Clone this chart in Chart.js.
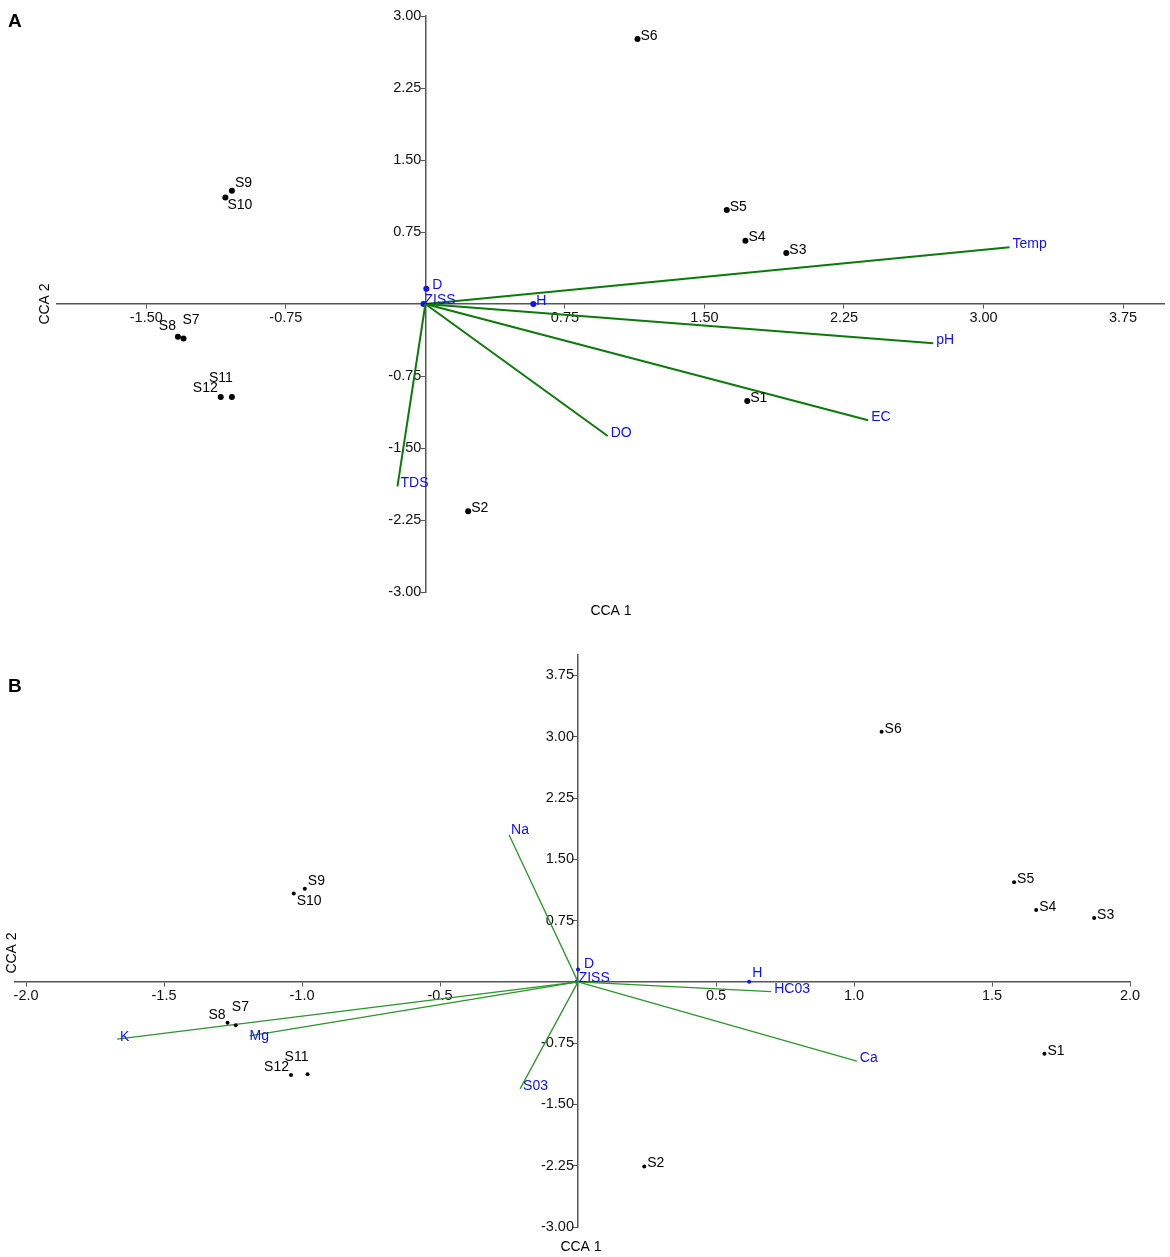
<!DOCTYPE html>
<html>
<head>
<meta charset="utf-8">
<script src="https://cdn.jsdelivr.net/npm/chart.js@4.4.0/dist/chart.umd.min.js"></script>
<style>
html, body { margin: 0; padding: 0; background: #fff; }
canvas { display: block; }
</style>
</head>
<body>
<canvas id="chartA" width="1170" height="625"></canvas>
<canvas id="chartB" width="1170" height="632"></canvas>
<script>
// ---- Panel A: physico-chemical CCA ----
const sitesA = ['S1', 'S2', 'S3', 'S4', 'S5', 'S6', 'S7', 'S8', 'S9', 'S10', 'S11', 'S12'];
const siteXA = [1.73, 0.23, 1.94, 1.72, 1.62, 1.14, -1.30, -1.33, -1.04, -1.075, -1.04, -1.10];
const siteYA = [-1.01, -2.16, 0.53, 0.66, 0.98, 2.76, -0.36, -0.34, 1.18, 1.11, -0.97, -0.97];
const vecNamesA = ['Temp', 'pH', 'EC', 'DO', 'TDS'];
const vecXA = [3.14, 2.73, 2.38, 0.98, -0.15];
const vecYA = [0.59, -0.41, -1.21, -1.375, -1.90];
const ptVarsA = ['D', 'ZISS', 'H'];
const ptVarXA = [0.005, -0.01, 0.58];
const ptVarYA = [0.16, 0.0, 0.0];
const ticksXA = [-1.5, -0.75, 0.75, 1.5, 2.25, 3.0, 3.75];
const ticksYA = [-3.0, -2.25, -1.5, -0.75, 0.75, 1.5, 2.25, 3.0];

// ---- Panel B: ionic CCA ----
const sitesB = ['S1', 'S2', 'S3', 'S4', 'S5', 'S6', 'S7', 'S8', 'S9', 'S10', 'S11', 'S12'];
const siteXB = [1.69, 0.24, 1.87, 1.66, 1.58, 1.10, -1.24, -1.27, -0.99, -1.03, -0.98, -1.04];
const siteYB = [-0.88, -2.26, 0.78, 0.88, 1.22, 3.06, -0.53, -0.50, 1.14, 1.08, -1.13, -1.14];
const vecNamesB = ['Na', 'K', 'Mg', 'S03', 'Ca', 'HC03'];
const vecXB = [-0.25, -1.67, -1.19, -0.21, 1.01, 0.70];
const vecYB = [1.80, -0.70, -0.66, -1.31, -0.97, -0.12];
const ptVarsB = ['D', 'ZISS', 'H'];
const ptVarXB = [0.0, -0.005, 0.62];
const ptVarYB = [0.15, 0.0, 0.0];
const ticksXB = [-2.0, -1.5, -1.0, -0.5, 0.5, 1.0, 1.5, 2.0];
const ticksYB = [-3.0, -2.25, -1.5, -0.75, 0.75, 1.5, 2.25, 3.0, 3.75];

const FONT = '"Liberation Sans", Arial, sans-serif';
const BLUE = '#1010f0';

function toPts(xs, ys) {
    return xs.map((x, i) => ({ x: x, y: ys[i] }));
}

// label drawing for points / vector ends
const pointLabels = {
    id: 'pointLabels',
    afterDatasetsDraw(chart) {
        const ctx = chart.ctx;
        const xs = chart.scales.x, ys = chart.scales.y;
        ctx.save();
        chart.data.datasets.forEach(ds => {
            if (!ds.names) return;
            ctx.fillStyle = ds.textColor;
            ctx.font = ds.textSize + 'px ' + FONT;
            ctx.textBaseline = 'middle';
            ds.names.forEach((name, i) => {
                const p = ds.labelAt === 'end' ? ds.data[ds.data.length - 1] : ds.data[i];
                const off = (ds.offsets && ds.offsets[name]) || {};
                const dx = off.dx !== undefined ? off.dx : 3;
                const dy = off.dy !== undefined ? off.dy : -3;
                ctx.textAlign = off.align || 'left';
                ctx.fillText(name, xs.getPixelForValue(p.x) + dx, ys.getPixelForValue(p.y) + dy);
            });
        });
        ctx.restore();
    }
};

const panelText = {
    id: 'panelText',
    afterDraw(chart, args, opts) {
        const ctx = chart.ctx;
        ctx.save();
        ctx.fillStyle = '#000';
        ctx.textBaseline = 'middle';
        ctx.textAlign = 'left';
        ctx.font = 'bold 19px ' + FONT;
        ctx.fillText(opts.letter, opts.letterX, opts.letterY);
        ctx.font = '14px ' + FONT;
        ctx.textAlign = 'center';
        ctx.fillText('CCA 1', opts.x1X, opts.x1Y);
        ctx.translate(opts.y2X, opts.y2Y);
        ctx.rotate(-Math.PI / 2);
        ctx.fillText('CCA 2', 0, 0);
        ctx.restore();
    }
};

function vectorSets(names, xs, ys, color, width, size, offsets) {
    return names.map((n, i) => ({
        data: [{ x: 0, y: 0 }, { x: xs[i], y: ys[i] }],
        showLine: true,
        borderColor: color,
        borderWidth: width,
        pointRadius: 0,
        names: [n],
        labelAt: 'end',
        textColor: BLUE,
        textSize: size,
        offsets: offsets
    }));
}

function axis(min, max, ticks, pos, fmt) {
    return {
        type: 'linear',
        min: min,
        max: max,
        position: pos,
        afterBuildTicks: s => { s.ticks = ticks.map(v => ({ value: v })); },
        grid: { display: true, drawOnChartArea: false, drawTicks: true, tickLength: 4, color: '#555', lineWidth: 1 },
        border: { display: true, color: '#555', width: 1.5 },
        ticks: {
            color: '#111',
            font: { family: FONT, size: 14.5 },
            autoSkip: false,
            maxRotation: 0,
            padding: 1,
            callback: fmt
        }
    };
}

// y labels sit right-aligned on the axis line; a trailing space leaves room for the tick mark
const yFmt = v => Number(v).toFixed(2) + ' ';

function makeChart(id, cfg) {
    const datasets = [];
    // site points
    datasets.push({
        data: toPts(cfg.sx, cfg.sy),
        pointRadius: cfg.r,
        pointBackgroundColor: '#000',
        pointBorderWidth: 0,
        names: cfg.sites,
        textColor: '#000',
        textSize: cfg.size,
        offsets: cfg.siteOff
    });
    vectorSets(cfg.vn, cfg.vx, cfg.vy, cfg.green, cfg.lw, cfg.size, cfg.envOff).forEach(d => datasets.push(d));
    datasets.push({
        data: toPts(cfg.px, cfg.py),
        pointRadius: cfg.r,
        pointBackgroundColor: BLUE,
        pointBorderWidth: 0,
        names: cfg.pv,
        textColor: BLUE,
        textSize: cfg.size,
        offsets: cfg.envOff
    });
    return new Chart(document.getElementById(id), {
        type: 'scatter',
        data: { datasets: datasets },
        options: {
            responsive: false,
            animation: false,
            layout: { padding: cfg.pad },
            plugins: {
                legend: { display: false },
                tooltip: { enabled: false },
                panelText: cfg.text
            },
            scales: {
                x: axis(cfg.xmin, cfg.xmax, cfg.tx, { y: 0 }, cfg.xFmt),
                y: axis(cfg.ymin, cfg.ymax, cfg.ty, { x: 0 }, yFmt)
            }
        },
        plugins: [pointLabels, panelText]
    });
}

makeChart('chartA', {
    sites: sitesA, sx: siteXA, sy: siteYA,
    vn: vecNamesA, vx: vecXA, vy: vecYA,
    pv: ptVarsA, px: ptVarXA, py: ptVarYA,
    tx: ticksXA, ty: ticksYA,
    xmin: -1.98, xmax: 3.97, ymin: -3.0, ymax: 3.0,
    xFmt: v => Number(v).toFixed(2),
    pad: { left: 57, right: 6, top: 16, bottom: 33 },
    r: 3, lw: 2, size: 14, green: '#0b7a0b',
    siteOff: {
        S9: { dy: -8 }, S10: { dx: 2, dy: 8 },
        S8: { dx: -2, dy: -10, align: 'right' }, S7: { dx: -1, dy: -18 },
        S11: { dx: -11, dy: -19, align: 'center' }, S12: { dx: -3, dy: -9, align: 'right' }
    },
    envOff: { D: { dx: 6, dy: -3 }, ZISS: { dx: 1, dy: -4 } },
    text: { letter: 'A', letterX: 8, letterY: 22, x1X: 611, x1Y: 611, y2X: 45, y2Y: 304 }
});

makeChart('chartB', {
    sites: sitesB, sx: siteXB, sy: siteYB,
    vn: vecNamesB, vx: vecXB, vy: vecYB,
    pv: ptVarsB, px: ptVarXB, py: ptVarYB,
    tx: ticksXB, ty: ticksYB,
    xmin: -2.04, xmax: 2.0, ymin: -3.0, ymax: 4.0,
    xFmt: v => Number(v).toFixed(1),
    pad: { left: 15, right: 40, top: 30, bottom: 30 },
    r: 2, lw: 1.3, size: 14, green: '#2a962a',
    siteOff: {
        S9: { dy: -8 }, S10: { dx: 3, dy: 8 },
        S8: { dx: -2, dy: -8, align: 'right' }, S7: { dx: -4, dy: -18 },
        S11: { dx: -11, dy: -17, align: 'center' }, S12: { dx: -2, dy: -8, align: 'right' }
    },
    envOff: {
        D: { dx: 6, dy: -5 }, ZISS: { dx: 2, dy: -4 }, H: { dx: 3, dy: -9 },
        K: { dx: 3, dy: -2 }, Mg: { dx: 0, dy: 0 }, Na: { dx: 2, dy: -5 }
    },
    text: { letter: 'B', letterX: 8, letterY: 62, x1X: 581, x1Y: 622, y2X: 12, y2Y: 328 }
});
</script>
</body>
</html>
